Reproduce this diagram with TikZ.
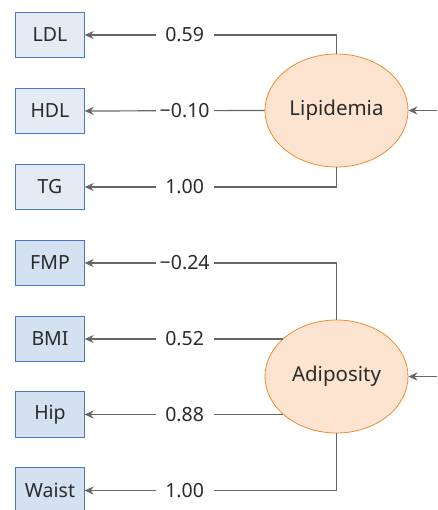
\documentclass[tikz,border=0pt]{standalone}
\usepackage{fontspec}
\setmainfont{Noto Sans}
\usetikzlibrary{shapes.geometric,arrows.meta,calc}
\definecolor{txt}{HTML}{2B2B2B}
\definecolor{ln}{HTML}{666666}
\definecolor{boxA}{HTML}{E4EBF5}
\definecolor{boxB}{HTML}{D3E1F0}
\definecolor{boxline}{HTML}{4A78C8}
\definecolor{ellfill}{HTML}{FDE4D0}
\definecolor{ellline}{HTML}{F08A2C}
\begin{document}
\begin{tikzpicture}[x=1pt,y=-1pt,
  every node/.style={text=txt,font=\fontsize{19.5}{22}\selectfont},
  obs/.style={draw=boxline,line width=0.8pt,minimum width=68.5pt,minimum height=45.5pt,inner sep=0pt},
  obsA/.style={obs,fill=boxA},
  obsB/.style={obs,fill=boxB},
  lat/.style={ellipse,draw=ellline,line width=0.8pt,fill=ellfill,minimum width=143pt,minimum height=113pt,inner sep=0pt,font=\fontsize{20.5}{24}\selectfont},
  arr/.style={draw=ln,line width=1.2pt,-{Stealth[length=9pt,width=8pt]}},
  lbl/.style={fill=white,minimum width=58pt,inner sep=0pt,minimum height=16pt}
]
\useasboundingbox (0,0) rectangle (437,510);
\node[obsA] (ldl) at (50,35) {LDL};
\node[obsA] (hdl) at (50,111) {HDL};
\node[obsA] (tg) at (50,187) {TG};
\node[obsB] (fmp) at (50,263) {FMP};
\node[obsB] (bmi) at (50,339) {BMI};
\node[obsB] (hip) at (50,414.5) {Hip};
\node[obsB] (waist) at (50,490.5) {Waist};
\node[lat] (lip) at (336.5,110.5) {Lipidemia};
\node[lat] (adi) at (336.5,376.5) {Adiposity};
\coordinate (rin1) at (437,110.5);
\coordinate (rin2) at (437,376.5);
\draw[arr] (lip.north) |- (ldl.east);
\draw[arr] (lip.west) -- (hdl.east);
\draw[arr] (lip.south) |- (tg.east);
\draw[arr] (adi.north) |- (fmp.east);
\draw[arr] (bmi.east -| adi.145) -- (bmi.east);
\draw[arr] (hip.east -| adi.215) -- (hip.east);
\draw[arr] (adi.south) |- (waist.east);
\draw[arr] (rin1) -- (lip.east);
\draw[arr] (rin2) -- (adi.east);
\node[lbl] (l1) at ($(ldl.east)+(100,0)$) {0.59};
\node[lbl] (l2) at ($(hdl.east)+(100,0)$) {−0.10};
\node[lbl] (l3) at ($(tg.east)+(100,0)$) {1.00};
\node[lbl] (l4) at ($(fmp.east)+(100,0)$) {−0.24};
\node[lbl] (l5) at ($(bmi.east)+(100,0)$) {0.52};
\node[lbl] (l6) at ($(hip.east)+(100,0)$) {0.88};
\node[lbl] (l7) at ($(waist.east)+(100,0)$) {1.00};
\end{tikzpicture}
\end{document}
